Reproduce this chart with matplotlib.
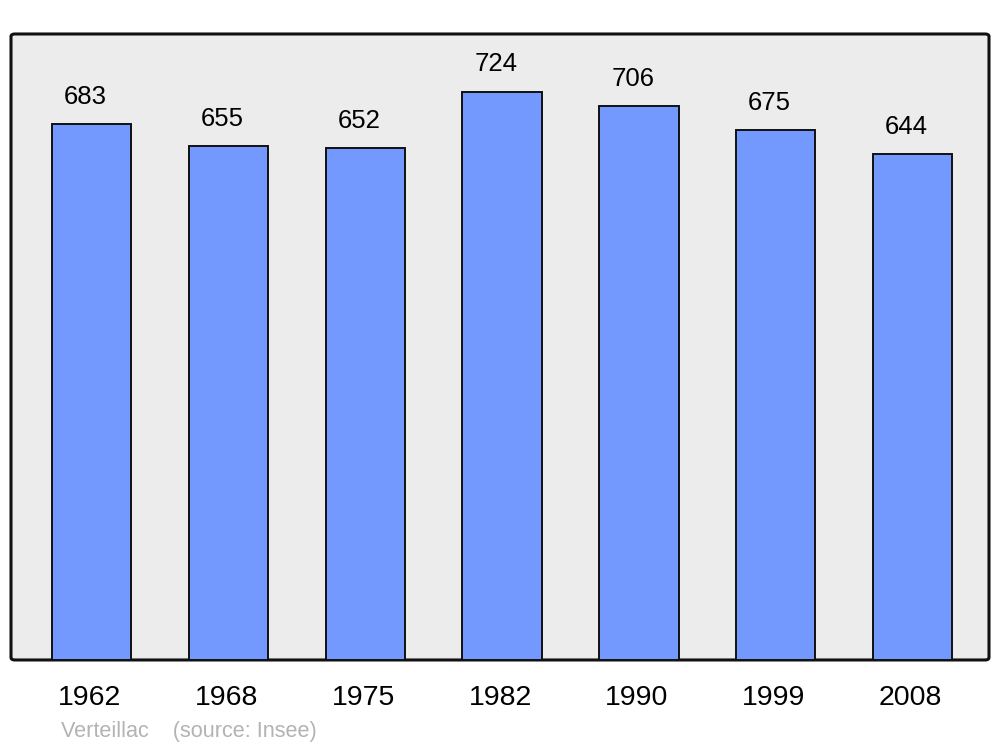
import matplotlib
matplotlib.use("Agg")
import matplotlib.pyplot as plt
from matplotlib.patches import FancyBboxPatch
from matplotlib.transforms import ScaledTranslation

years = ["1962", "1968", "1975", "1982", "1990", "1999", "2008"]
population = [683, 655, 652, 724, 706, 675, 644]
title_note = "Verteillac    (source: Insee)"

plt.rcParams['font.family'] = ['Liberation Sans', 'DejaVu Sans']

fig = plt.figure(figsize=(10, 7.47), dpi=100)
ax = fig.add_axes([0.011, 0.1165, 0.978, 0.838])
ax.set_facecolor('none')

frame = FancyBboxPatch((0, 0), 1, 1, boxstyle="round,pad=0,rounding_size=0.004",
                       transform=ax.transAxes, facecolor='#ececec', edgecolor='#111111',
                       linewidth=2.2, clip_on=False, zorder=0)
ax.add_patch(frame)

x = list(range(len(years)))
bars = ax.bar(x, population, width=0.58, color='#7399ff', edgecolor='#111111',
              linewidth=1.4, zorder=2)
for xi, v in zip(x, population):
    ax.annotate(str(v), (xi, v), xytext=(-4.3, 11), textcoords='offset points',
                ha='center', va='bottom', fontsize=18.5, color='black')

ax.set_xlim(-0.59, 6.56)
ax.set_ylim(0, 797.5)
for s in ax.spines.values():
    s.set_visible(False)
ax.set_yticks([])
ax.set_xticks(x)
ax.set_xticklabels(years, fontsize=20.5)
ax.tick_params(axis='x', length=0, pad=18)
shift = ScaledTranslation(-2 / 100, 0, fig.dpi_scale_trans)
for lbl in ax.get_xticklabels():
    lbl.set_transform(lbl.get_transform() + shift)

fig.text(0.061, 0.013, title_note, fontsize=15.6, color='#b3b3b3', ha='left', va='baseline')

fig.savefig("out.png", dpi=100)
